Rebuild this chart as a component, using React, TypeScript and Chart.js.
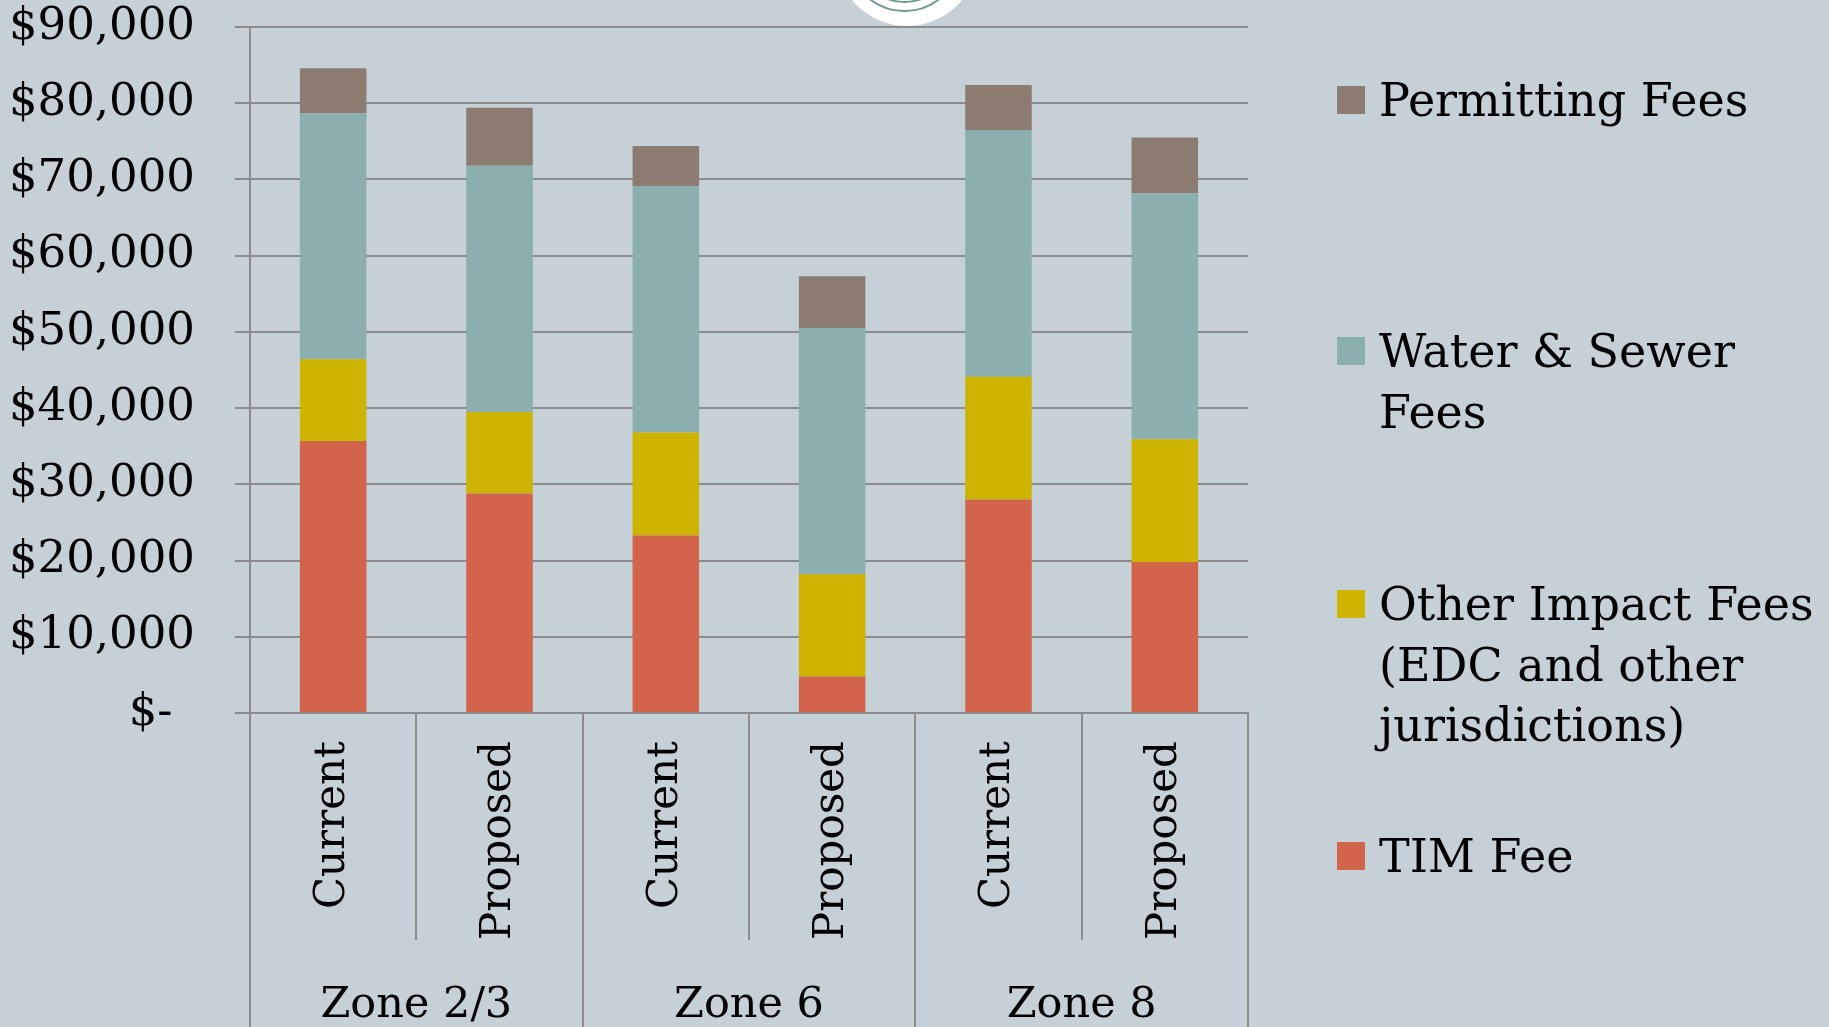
import React, { useEffect, useRef } from "react";
import { Chart, registerables } from "chart.js";

Chart.register(...registerables);

// ---------- data ----------
const CATEGORIES = ["Current", "Proposed", "Current", "Proposed", "Current", "Proposed"];
const ZONES = ["Zone 2/3", "Zone 6", "Zone 8"];

const TIM_FEE = [35700, 28800, 23300, 4800, 28000, 19800];
const OTHER_IMPACT_FEES = [10700, 10700, 13500, 13400, 16100, 16100];
const WATER_SEWER_FEES = [32300, 32300, 32300, 32300, 32400, 32300];
const PERMITTING_FEES = [5900, 7600, 5300, 6800, 5900, 7300];

const Y_TICK_LABELS = [
  "$-",
  "$10,000",
  "$20,000",
  "$30,000",
  "$40,000",
  "$50,000",
  "$60,000",
  "$70,000",
  "$80,000",
  "$90,000",
];

const SERIES_NAMES = [
  "TIM Fee",
  "Other Impact Fees (EDC and other jurisdictions)",
  "Water & Sewer Fees",
  "Permitting Fees",
];

// legend (top to bottom), text split into lines as in the reference
const LEGEND_LINES = [
  ["Permitting Fees"],
  ["Water & Sewer", "Fees"],
  ["Other Impact Fees", "(EDC and other", "jurisdictions)"],
  ["TIM Fee"],
];

// ---------- style ----------
const BG = "#c5d1d7";
const GRID = "#8c8c8c";
const COLOR_TIM = "#d2644b";
const COLOR_OTHER = "#ccb400";
const COLOR_WATER = "#8baeaf";
const COLOR_PERMIT = "#8b7b70";
const LEGEND_COLORS = [COLOR_PERMIT, COLOR_WATER, COLOR_OTHER, COLOR_TIM];
const FONT = "'DejaVu Serif', serif";

const W = 1829;
const H = 1027;

export default function App() {
  const canvasRef = useRef<HTMLCanvasElement | null>(null);

  useEffect(() => {
    document.documentElement.style.overflow = "hidden";
    const canvas = canvasRef.current;
    if (!canvas) return;
    const chart = new Chart(canvas, {
      type: "bar",
      data: {
        labels: CATEGORIES,
        datasets: [
          { label: SERIES_NAMES[0], data: TIM_FEE, backgroundColor: COLOR_TIM },
          { label: SERIES_NAMES[1], data: OTHER_IMPACT_FEES, backgroundColor: COLOR_OTHER },
          { label: SERIES_NAMES[2], data: WATER_SEWER_FEES, backgroundColor: COLOR_WATER },
          { label: SERIES_NAMES[3], data: PERMITTING_FEES, backgroundColor: COLOR_PERMIT },
        ],
      },
      options: {
        responsive: false,
        animation: false,
        devicePixelRatio: 1,
        layout: { padding: { top: 27, right: 581, bottom: 0, left: 0 } },
        datasets: {
          bar: { categoryPercentage: 1, barPercentage: 0.4 },
        },
        plugins: {
          legend: { display: false },
          tooltip: { enabled: false },
        },
        scales: {
          x: {
            stacked: true,
            offset: true,
            weight: 0,
            grid: {
              offset: true,
              drawOnChartArea: false,
              drawTicks: true,
              tickLength: 227,
              color: GRID,
              lineWidth: 2,
            },
            border: { display: true, color: GRID, width: 2 },
            ticks: {
              autoSkip: false,
              minRotation: 90,
              maxRotation: 90,
              padding: -199,
              color: "#000",
              font: { family: FONT, size: 42 },
            },
            afterFit: (s: any) => {
              s.height = 227;
            },
          },
          x2: {
            type: "category",
            labels: ZONES,
            position: "bottom",
            offset: true,
            weight: 1,
            grid: {
              offset: true,
              drawOnChartArea: false,
              tickLength: 87,
              color: GRID,
              lineWidth: 2,
            },
            border: { display: false },
            ticks: {
              autoSkip: false,
              minRotation: 0,
              maxRotation: 0,
              padding: -47,
              color: "#000",
              font: { family: FONT, size: 43 },
            },
            afterFit: (s: any) => {
              s.height = 87;
            },
          },
          y: {
            stacked: true,
            min: 0,
            max: 90000,
            ticks: {
              stepSize: 10000,
              padding: 40,
              color: "#000",
              font: { family: FONT, size: 45 },
              callback: (v: any) => {
                const idx = Math.round(Number(v) / 10000);
                const lbl = Y_TICK_LABELS[idx] ?? "";
                return idx === 0 ? lbl + "\u2002" : lbl;
              },
            },
            grid: { color: GRID, lineWidth: 2, tickLength: 15 },
            border: { display: true, color: GRID, width: 2 },
            afterFit: (s: any) => {
              s.width = 250;
              s.paddingTop = 20;
              s.paddingBottom = 0;
            },
          },
        },
      } as any,
    });
    return () => chart.destroy();
  }, []);

  const legendTops = [70, 321, 574, 826];

  return (
    <div
      style={{
        position: "absolute",
        left: 0,
        top: 0,
        width: W,
        height: H,
        background: BG,
        overflow: "hidden",
        fontFamily: FONT,
      }}
    >
      <canvas ref={canvasRef} width={W} height={H} style={{ position: "absolute", left: 0, top: 0, width: W, height: H }} />
      {/* logo */}
      <div
        style={{
          position: "absolute",
          left: 907 - 71,
          top: -45 - 71,
          width: 142,
          height: 142,
          borderRadius: "50%",
          background: "#ffffff",
        }}
      />
      <div
        style={{
          position: "absolute",
          left: 905 - 58,
          top: -45 - 58,
          width: 116 - 5,
          height: 116 - 5,
          borderRadius: "50%",
          border: "2.5px solid #6f9794",
        }}
      />
      <div
        style={{
          position: "absolute",
          left: 905 - 49,
          top: -45 - 49,
          width: 98 - 5,
          height: 98 - 5,
          borderRadius: "50%",
          border: "2.5px solid #6f9794",
        }}
      />
      {/* legend */}
      {LEGEND_LINES.map((lines, i) => (
        <div key={i} style={{ position: "absolute", left: 1337, top: legendTops[i] }}>
          <div
            style={{
              position: "absolute",
              left: 0,
              top: 16,
              width: 28,
              height: 28,
              background: LEGEND_COLORS[i],
            }}
          />
          <div
            style={{
              position: "absolute",
              left: 42,
              top: 0,
              fontSize: 46,
              lineHeight: "60.5px",
              whiteSpace: "nowrap",
              color: "#000",
            }}
          >
            {lines.map((ln, j) => (
              <div key={j}>{ln}</div>
            ))}
          </div>
        </div>
      ))}
    </div>
  );
}
